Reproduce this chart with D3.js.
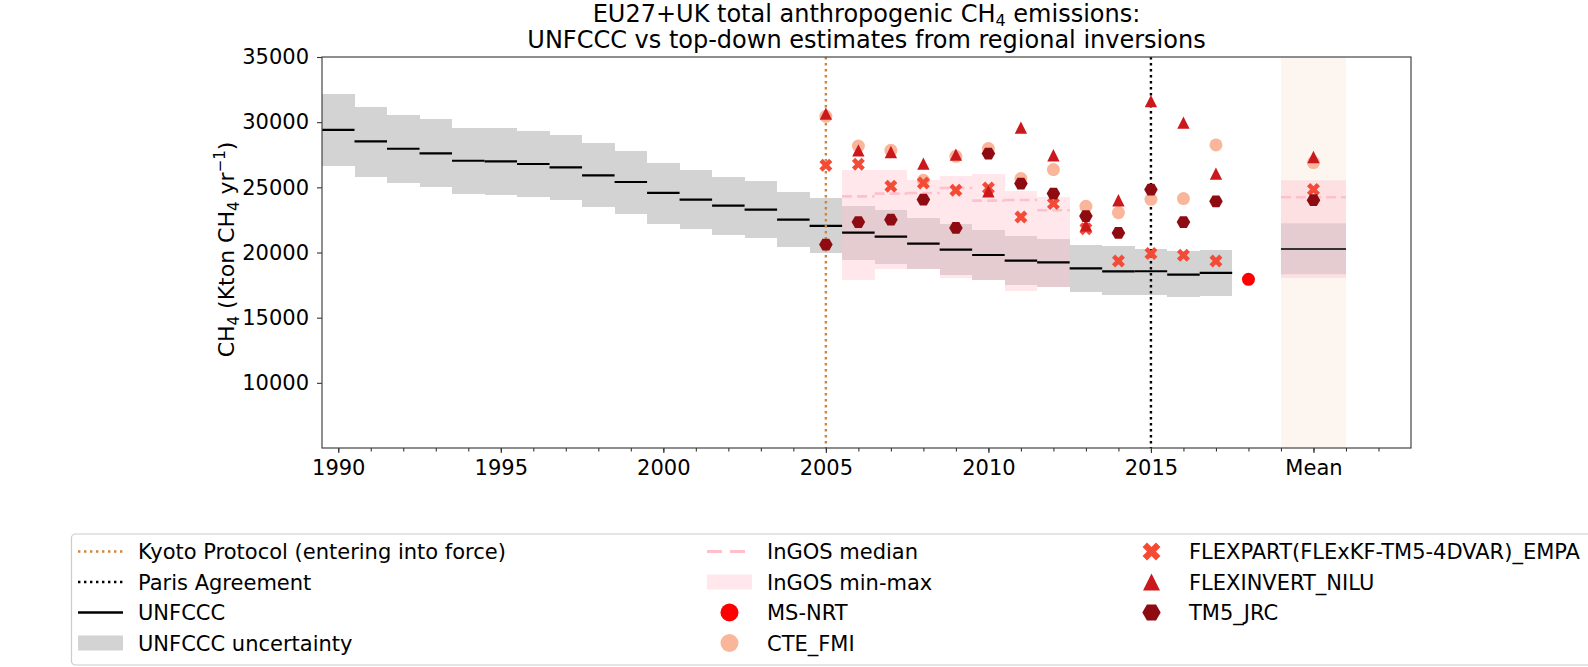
<!DOCTYPE html>
<html>
<head>
<meta charset="utf-8">
<script src="https://cdn.jsdelivr.net/npm/d3@7"></script>
<style>
body { margin: 0; background: #fff; }
text { font-family: "DejaVu Sans", sans-serif; fill: #000; }
</style>
</head>
<body>
<svg width="1588" height="667"></svg>
<script>
// UNFCCC inventory 1990-2017 (kt CH4 / yr)
var years = [1990, 1991, 1992, 1993, 1994, 1995, 1996, 1997, 1998, 1999, 2000, 2001, 2002, 2003,
             2004, 2005, 2006, 2007, 2008, 2009, 2010, 2011, 2012, 2013, 2014, 2015, 2016, 2017];
var unfccc = [29410, 28520, 27960, 27600, 27040, 26990, 26790, 26530, 25920, 25410, 24570, 24060, 23600, 23290,
              22530, 22050, 21530, 21220, 20680, 20220, 19810, 19380, 19250, 18780, 18550, 18560, 18300, 18430];
var unfcccHigh = [32170, 31200, 30560, 30230, 29590, 29540, 29310, 29030, 28370, 27810, 26860, 26350, 25790, 25490,
                  24620, 24150, 23540, 23240, 22650, 22160, 21700, 21240, 21070, 20600, 20500, 20250, 20090, 20170];
var unfcccLow = [26610, 25790, 25330, 25000, 24490, 24440, 24260, 24060, 23500, 22990, 22200, 21810, 21360, 21100,
                 20390, 19970, 19400, 19150, 18710, 18300, 17870, 17480, 17350, 16970, 16720, 16720, 16560, 16640];

// InGOS ensemble 2006-2012
var ingosYears = [2006, 2007, 2008, 2009, 2010, 2011, 2012];
var ingosMax = [26360, 26300, 25540, 25850, 26000, 24700, 24240];
var ingosMin = [17920, 18760, 18700, 18040, 17870, 17020, 17350];
var ingosMedian = [24310, 24520, 24570, 24950, 23980, 24030, 23240];

// regional inversions 2005-2017
var invYears = [2005, 2006, 2007, 2008, 2009, 2010, 2011, 2012, 2013, 2014, 2015, 2016, 2017];
var cteFmi = [30450, 28170, 27840, 25540, 27380, 27970, 25670, 26360, 23540, 23060, 24080, 24140, 28250];
var flexpart = [26690, 26770, 25080, 25330, 24770, 24950, 22720, 23750, 21830, 19350, 19920, 19790, 19350];
var flexinvert = [30660, 27840, 27710, 26820, 27510, 24700, 29580, 27460, 22090, 24010, 31620, 29970, 26050];
var tm5Jrc = [20610, 22340, 22520, 24060, 21880, 27590, 25290, 24520, 22800, 21500, 24830, 22340, 23930];
var msNrtYears = [2018];
var msNrt = [17940];

// "Mean" column, plotted at x = 2020
var meanX = 2020;
var meanUnfccc = 20270, meanUnfcccLow = 18330, meanUnfcccHigh = 22240;
var meanIngosMin = 18040, meanIngosMax = 25540, meanIngosMedian = 24240;
var meanCte = 26900, meanFlexpart = 24830, meanFlexinvert = 27330, meanTm5 = 24010;

var kyotoYear = 2005, parisYear = 2015;

var xTicks = [1990, 1995, 2000, 2005, 2010, 2015, 2020];
var xTickLabels = ["1990", "1995", "2000", "2005", "2010", "2015", "Mean"];
var xMinorTicks = [1990, 1991, 1992, 1993, 1994, 1995, 1996, 1997, 1998, 1999, 2000, 2001, 2002, 2003, 2004, 2005,
                   2006, 2007, 2008, 2009, 2010, 2011, 2012, 2013, 2014, 2015, 2016, 2017, 2018, 2019, 2020, 2021, 2022];
var yTicks = [10000, 15000, 20000, 25000, 30000, 35000];

var svg = d3.select("svg"),
    pLeft = 322, pRight = 1411, pTop = 57, pBottom = 448;

var x = d3.scaleLinear().domain([1989.5, 2023]).range([pLeft, pRight]);
var y = d3.scaleLinear().domain([5000, 35000]).range([pBottom, pTop]);

var grey = "#d3d3d3", pink = "#ffc0cb";
var cteColor = "#f9b69b", flexpartColor = "#f44b36", flexinvertColor = "#cb181d", tm5Color = "#8e0b12", msColor = "#ff0000";

// custom marker shapes
var hexagon = {
  draw: function(ctx, size) {
    var r = Math.sqrt(size);
    for (var i = 0; i < 6; i++) {
      var a = i * Math.PI / 3;
      if (i == 0) ctx.moveTo(r * Math.cos(a), r * Math.sin(a));
      else ctx.lineTo(r * Math.cos(a), r * Math.sin(a));
    }
    ctx.closePath();
  }
};
var triangle = {
  draw: function(ctx, size) {
    var r = Math.sqrt(size);
    ctx.moveTo(0, -r);
    ctx.lineTo(r, r);
    ctx.lineTo(-r, r);
    ctx.closePath();
  }
};

var plot = svg.append("g");

// Mean background
plot.append("rect")
    .attr("x", x(meanX - 1)).attr("width", x(meanX + 1) - x(meanX - 1))
    .attr("y", pTop).attr("height", pBottom - pTop)
    .style("fill", "#fcf5f0");

// UNFCCC uncertainty
plot.append("g").selectAll("rect")
    .data(years)
    .enter().append("rect")
    .attr("x", function(d) { return x(d - 0.5); })
    .attr("width", x(1) - x(0))
    .attr("y", function(d, i) { return y(unfcccHigh[i]); })
    .attr("height", function(d, i) { return y(unfcccLow[i]) - y(unfcccHigh[i]); })
    .attr("shape-rendering", "crispEdges")
    .style("fill", grey);
plot.append("rect")
    .attr("x", x(meanX - 1)).attr("width", x(meanX + 1) - x(meanX - 1))
    .attr("y", y(meanUnfcccHigh)).attr("height", y(meanUnfcccLow) - y(meanUnfcccHigh))
    .style("fill", grey);

// InGOS min-max
plot.append("g").selectAll("rect")
    .data(ingosYears)
    .enter().append("rect")
    .attr("x", function(d) { return x(d - 0.5); })
    .attr("width", x(1) - x(0))
    .attr("y", function(d, i) { return y(ingosMax[i]); })
    .attr("height", function(d, i) { return y(ingosMin[i]) - y(ingosMax[i]); })
    .attr("shape-rendering", "crispEdges")
    .style("fill", pink).style("fill-opacity", 0.38);
plot.append("rect")
    .attr("x", x(meanX - 1)).attr("width", x(meanX + 1) - x(meanX - 1))
    .attr("y", y(meanIngosMax)).attr("height", y(meanIngosMin) - y(meanIngosMax))
    .style("fill", pink).style("fill-opacity", 0.38);

// UNFCCC line (one step per year)
plot.append("g").selectAll("line")
    .data(years)
    .enter().append("line")
    .attr("x1", function(d) { return x(d - 0.5); })
    .attr("x2", function(d) { return x(d + 0.5); })
    .attr("y1", function(d, i) { return y(unfccc[i]); })
    .attr("y2", function(d, i) { return y(unfccc[i]); })
    .style("stroke", "#000").style("stroke-width", 2.2);
plot.append("line")
    .attr("x1", x(meanX - 1)).attr("x2", x(meanX + 1))
    .attr("y1", y(meanUnfccc)).attr("y2", y(meanUnfccc))
    .style("stroke", "#333").style("stroke-width", 2.2);

// InGOS median
plot.append("g").selectAll("line")
    .data(ingosYears)
    .enter().append("line")
    .attr("x1", function(d) { return x(d - 0.5); })
    .attr("x2", function(d) { return x(d + 0.5); })
    .attr("y1", function(d, i) { return y(ingosMedian[i]); })
    .attr("y2", function(d, i) { return y(ingosMedian[i]); })
    .style("stroke", pink).style("stroke-width", 2.6).style("stroke-dasharray", "10,5");
plot.append("line")
    .attr("x1", x(meanX - 1)).attr("x2", x(meanX + 1))
    .attr("y1", y(meanIngosMedian)).attr("y2", y(meanIngosMedian))
    .style("stroke", pink).style("stroke-width", 2.6).style("stroke-dasharray", "10,5");

// Kyoto / Paris
plot.append("line")
    .attr("x1", x(kyotoYear)).attr("x2", x(kyotoYear)).attr("y1", pTop).attr("y2", pBottom)
    .style("stroke", "#cd853f").style("stroke-width", 2.4).style("stroke-dasharray", "2.4,3.6");
plot.append("line")
    .attr("x1", x(parisYear)).attr("x2", x(parisYear)).attr("y1", pTop).attr("y2", pBottom)
    .style("stroke", "#000").style("stroke-width", 2.4).style("stroke-dasharray", "2.4,3.6");

// inversion markers
function markers(xs, vals, type, size, color, rot) {
  plot.append("g").selectAll("path")
      .data(vals)
      .enter().append("path")
      .attr("d", d3.symbol().type(type).size(size))
      .attr("transform", function(d, i) {
        return "translate(" + x(xs[i]) + "," + y(d) + ")" + (rot ? " rotate(" + rot + ")" : "");
      })
      .style("fill", color);
}
markers(msNrtYears, msNrt, d3.symbolCircle, 133, msColor);
markers(invYears.concat([meanX]), cteFmi.concat([meanCte]), d3.symbolCircle, 133, cteColor);
markers(invYears.concat([meanX]), flexpart.concat([meanFlexpart]), d3.symbolCross, 105, flexpartColor, 45);
markers(invYears.concat([meanX]), flexinvert.concat([meanFlexinvert]), triangle, 38, flexinvertColor);
markers(invYears.concat([meanX]), tm5Jrc.concat([meanTm5]), hexagon, 46, tm5Color);

// axes
var xAxis = svg.append("g")
    .attr("transform", "translate(0," + pBottom + ")")
    .call(d3.axisBottom(x).tickValues(xTicks).tickSize(5).tickPadding(7)
      .tickFormat(function(d, i) { return xTickLabels[i]; }));
var xMinor = svg.append("g")
    .attr("transform", "translate(0," + pBottom + ")")
    .call(d3.axisBottom(x).tickValues(xMinorTicks).tickSize(3.5).tickFormat(""));
var yAxis = svg.append("g")
    .attr("transform", "translate(" + pLeft + ",0)")
    .call(d3.axisLeft(y).tickValues(yTicks).tickSize(5).tickPadding(8).tickFormat(d3.format("d")));
[xAxis, xMinor, yAxis].forEach(function(a) {
  a.select(".domain").remove();
  a.selectAll("line").style("stroke", "#333").style("stroke-width", 1.1);
  a.selectAll("text").style("font-size", "21px").style("font-family", "DejaVu Sans").style("fill", "#000");
});

svg.append("rect")
    .attr("x", pLeft).attr("y", pTop).attr("width", pRight - pLeft).attr("height", pBottom - pTop)
    .style("fill", "none").style("stroke", "#444").style("stroke-width", 1.2);

// y label
var ylab = svg.append("text")
    .attr("transform", "translate(234," + ((pTop + pBottom) / 2 - 3) + ") rotate(-90)")
    .attr("text-anchor", "middle")
    .style("font-size", "22px");
ylab.append("tspan").text("CH");
ylab.append("tspan").attr("dy", 5).style("font-size", "15px").text("4");
ylab.append("tspan").attr("dy", -5).text(" (Kton CH");
ylab.append("tspan").attr("dy", 5).style("font-size", "15px").text("4");
ylab.append("tspan").attr("dy", -5).text(" yr");
ylab.append("tspan").attr("dy", -9).style("font-size", "15px").text("\u22121");
ylab.append("tspan").attr("dy", 9).text(")");

// title
var cx = (pLeft + pRight) / 2;
var t1 = svg.append("text").attr("x", cx).attr("y", 22).attr("text-anchor", "middle").style("font-size", "24px");
t1.append("tspan").text("EU27+UK total anthropogenic CH");
t1.append("tspan").attr("dy", 4).style("font-size", "16px").text("4");
t1.append("tspan").attr("dy", -4).text(" emissions:");
svg.append("text").attr("x", cx).attr("y", 48).attr("text-anchor", "middle").style("font-size", "24px")
    .text("UNFCCC vs top-down estimates from regional inversions");

// legend
var legend = svg.append("g");
legend.append("rect")
    .attr("x", 71.5).attr("y", 534).attr("width", 1600).attr("height", 131).attr("rx", 4)
    .style("fill", "#fff").style("stroke", "#cccccc").style("stroke-width", 1.2);

var rows = [551.5, 582, 612.5, 643];
var cols = [78, 707, 1129];
var legendItems = [
  {col: 0, row: 0, label: "Kyoto Protocol (entering into force)", kind: "line", color: "#cd853f", dash: "2.4,3.6", width: 2.4},
  {col: 0, row: 1, label: "Paris Agreement", kind: "line", color: "#000", dash: "2.4,3.6", width: 2.4},
  {col: 0, row: 2, label: "UNFCCC", kind: "line", color: "#000", dash: null, width: 2.4},
  {col: 0, row: 3, label: "UNFCCC uncertainty", kind: "patch", color: grey, opacity: 1},
  {col: 1, row: 0, label: "InGOS median", kind: "line", color: pink, dash: "15,8", width: 3},
  {col: 1, row: 1, label: "InGOS min-max", kind: "patch", color: pink, opacity: 0.38},
  {col: 1, row: 2, label: "MS-NRT", kind: "marker", color: msColor, type: d3.symbolCircle, size: 255},
  {col: 1, row: 3, label: "CTE_FMI", kind: "marker", color: cteColor, type: d3.symbolCircle, size: 255},
  {col: 2, row: 0, label: "FLEXPART(FLExKF-TM5-4DVAR)_EMPA", kind: "marker", color: flexpartColor, type: d3.symbolCross, size: 200, rot: 45},
  {col: 2, row: 1, label: "FLEXINVERT_NILU", kind: "marker", color: flexinvertColor, type: triangle, size: 72},
  {col: 2, row: 2, label: "TM5_JRC", kind: "marker", color: tm5Color, type: hexagon, size: 84}
];

legendItems.forEach(function(it) {
  var hx = cols[it.col], hy = rows[it.row];
  if (it.kind == "line") {
    legend.append("line").attr("x1", hx).attr("x2", hx + 45).attr("y1", hy).attr("y2", hy)
        .style("stroke", it.color).style("stroke-width", it.width).style("stroke-dasharray", it.dash);
  } else if (it.kind == "patch") {
    legend.append("rect").attr("x", hx).attr("y", hy - 7.5).attr("width", 45).attr("height", 15)
        .style("fill", it.color).style("fill-opacity", it.opacity);
  } else {
    legend.append("path").attr("d", d3.symbol().type(it.type).size(it.size))
        .attr("transform", "translate(" + (hx + 22.5) + "," + hy + ")" + (it.rot ? " rotate(" + it.rot + ")" : ""))
        .style("fill", it.color);
  }
  legend.append("text").attr("x", hx + 60).attr("y", hy).attr("dy", "0.36em")
      .style("font-size", "21px").text(it.label);
});
</script>
</body>
</html>
